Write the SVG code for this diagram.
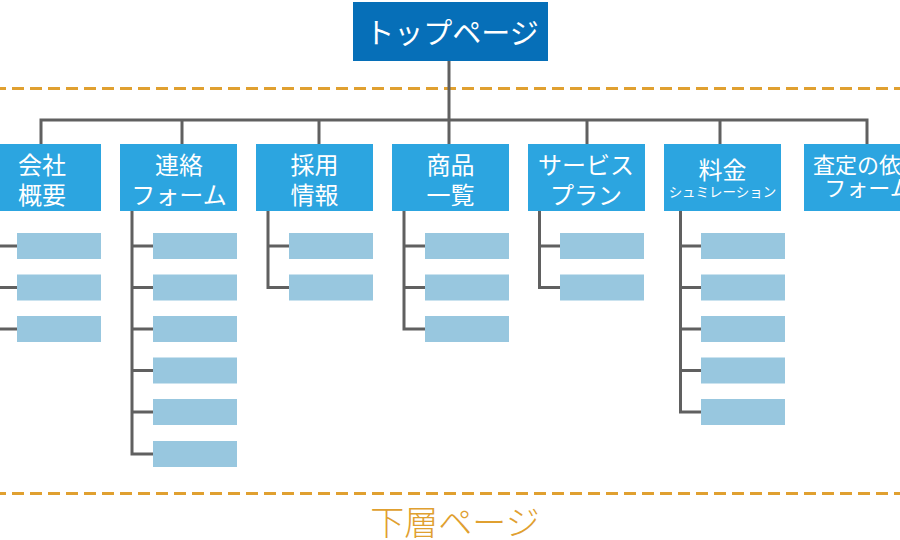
<svg xmlns="http://www.w3.org/2000/svg" width="900" height="540" viewBox="0 0 900 540">
<style>
.top{fill:#066fb8}
.node{fill:#2ca5e0}
.sub{fill:#98c7df}
.t{font-family:"Noto Sans CJK JP","Noto Sans",sans-serif;fill:#fff;text-anchor:middle;dominant-baseline:central}
.conn{fill:none;stroke:#606060;stroke-width:3}
.dash{fill:none;stroke:#e0a030;stroke-width:3;stroke-dasharray:12 6;stroke-dashoffset:6}
</style>
<rect width="900" height="540" fill="#fff"/>
<line class="dash" x1="0" y1="88.5" x2="900" y2="88.5"/>
<line class="dash" x1="0" y1="493.5" x2="900" y2="493.5"/>
<g id="connectors">
<path class="conn" d="M449 61V120M41 144V120H867V144M182 120V144M319 120V144M449 120V144M587 120V144M720 120V144"/>
<path class="conn" d="M0 246H17M0 287.5H17M0 329H17"/>
<path class="conn" d="M132 211V454H153M132 246H153M132 287.5H153M132 329H153M132 370.5H153M132 412H153"/>
<path class="conn" d="M268 211V287.5H289M268 246H289"/>
<path class="conn" d="M404 211V329H425M404 246H425M404 287.5H425"/>
<path class="conn" d="M539.5 211V287.5H560M539.5 246H560"/>
<path class="conn" d="M680.5 211V412H701M680.5 246H701M680.5 287.5H701M680.5 329H701M680.5 370.5H701"/>
</g>
<g id="top">
<rect class="top" x="353" y="2" width="195" height="59"/>
<text class="t" x="452" y="31" font-size="29">トップページ</text>
</g>
<g id="n1">
<rect class="node" x="-16" y="144" width="117" height="67"/>
<text class="t" font-size="24"><tspan x="42" y="163">会社</tspan><tspan x="42" y="193">概要</tspan></text>
</g>
<g id="n2">
<rect class="node" x="120" y="144" width="117" height="67"/>
<text class="t" font-size="24"><tspan x="179" y="163">連絡</tspan><tspan x="179" y="193">フォーム</tspan></text>
</g>
<g id="n3">
<rect class="node" x="256" y="144" width="117" height="67"/>
<text class="t" font-size="24"><tspan x="314.5" y="163">採用</tspan><tspan x="314.5" y="193">情報</tspan></text>
</g>
<g id="n4">
<rect class="node" x="392" y="144" width="117" height="67"/>
<text class="t" font-size="24"><tspan x="450.5" y="163">商品</tspan><tspan x="450.5" y="193">一覧</tspan></text>
</g>
<g id="n5">
<rect class="node" x="528" y="144" width="117" height="67"/>
<text class="t" font-size="24"><tspan x="586" y="163">サービス</tspan><tspan x="586" y="193">プラン</tspan></text>
</g>
<g id="n6">
<rect class="node" x="664" y="144" width="117" height="67"/>
<text class="t" font-size="24"><tspan x="722.5" y="168">料金</tspan><tspan x="722.5" y="191" font-size="13.5">シュミレーション</tspan></text>
</g>
<g id="n7">
<rect class="node" x="804" y="144" width="140" height="67"/>
<text class="t" font-size="22"><tspan x="868" y="163">査定の依頼</tspan><tspan x="868" y="186">フォーム</tspan></text>
</g>
<g id="subs">
<rect class="sub" x="17" y="233" width="84" height="26"/>
<rect class="sub" x="17" y="274.5" width="84" height="26"/>
<rect class="sub" x="17" y="316" width="84" height="26"/>
<rect class="sub" x="153" y="233" width="84" height="26"/>
<rect class="sub" x="153" y="274.5" width="84" height="26"/>
<rect class="sub" x="153" y="316" width="84" height="26"/>
<rect class="sub" x="153" y="357.5" width="84" height="26"/>
<rect class="sub" x="153" y="399" width="84" height="26"/>
<rect class="sub" x="153" y="441" width="84" height="26"/>
<rect class="sub" x="289" y="233" width="84" height="26"/>
<rect class="sub" x="289" y="274.5" width="84" height="26"/>
<rect class="sub" x="425" y="233" width="84" height="26"/>
<rect class="sub" x="425" y="274.5" width="84" height="26"/>
<rect class="sub" x="425" y="316" width="84" height="26"/>
<rect class="sub" x="560" y="233" width="84" height="26"/>
<rect class="sub" x="560" y="274.5" width="84" height="26"/>
<rect class="sub" x="701" y="233" width="84" height="26"/>
<rect class="sub" x="701" y="274.5" width="84" height="26"/>
<rect class="sub" x="701" y="316" width="84" height="26"/>
<rect class="sub" x="701" y="357.5" width="84" height="26"/>
<rect class="sub" x="701" y="399" width="84" height="26"/>
</g>
<text x="455" y="520" font-size="34" font-family="Noto Sans CJK JP,sans-serif" fill="#e0a030" text-anchor="middle" dominant-baseline="central" font-weight="300">下層ページ</text>
</svg>
